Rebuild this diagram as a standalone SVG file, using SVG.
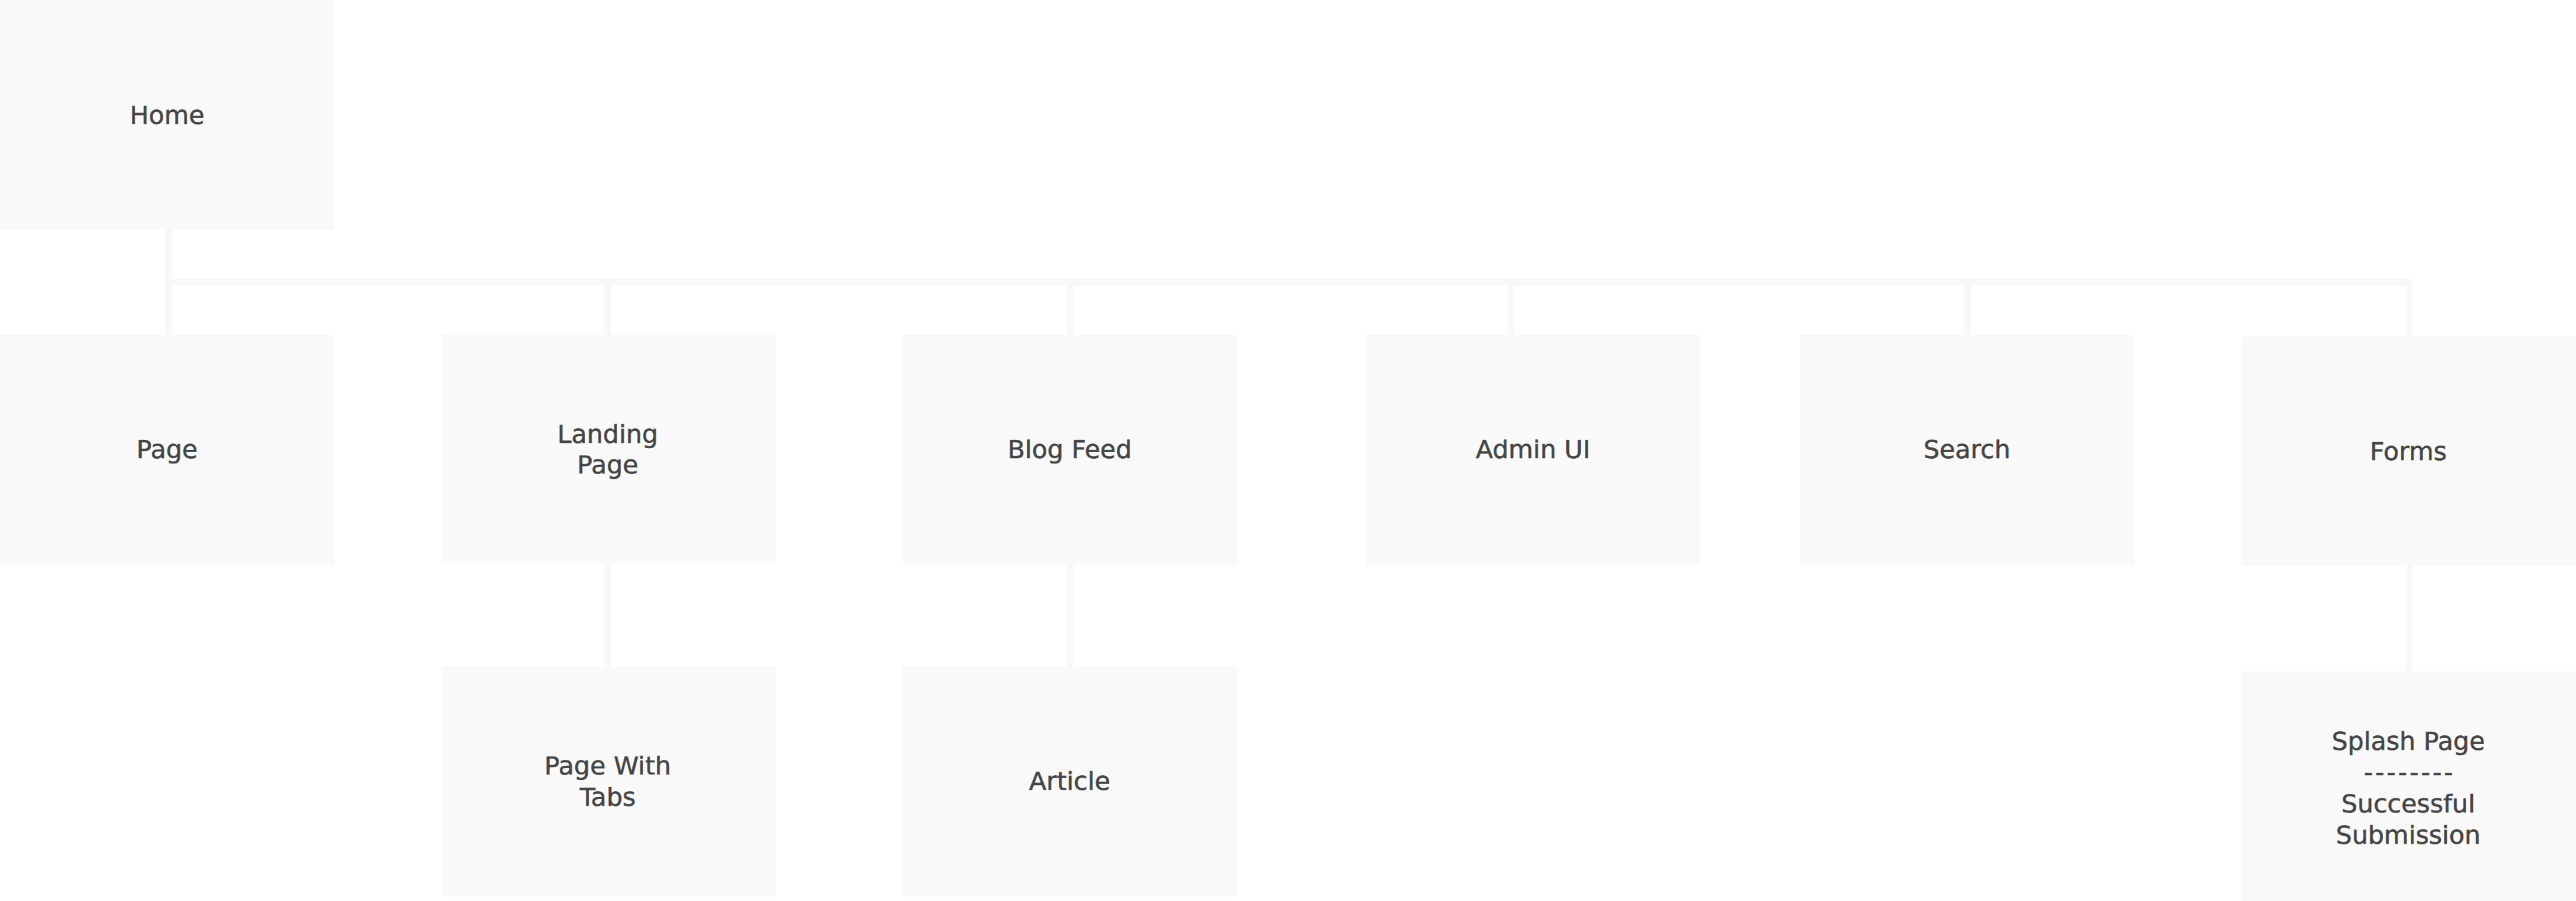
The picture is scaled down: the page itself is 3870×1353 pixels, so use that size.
<svg xmlns="http://www.w3.org/2000/svg" width="3870" height="1353" viewBox="0 0 3870 1353">
<style>
.box{fill:#f9f9f9}
.lbl{font-family:"DejaVu Sans","Noto Sans",sans-serif;font-size:38px;fill:#444;stroke:#444;stroke-width:0.6;text-anchor:middle;dominant-baseline:central}
.dash{letter-spacing:3.5px}
.con{fill:#f8f8f8}
</style>
<rect width="3870" height="1353" fill="#ffffff"/>
<g id="connectors">
<rect class="con" x="248" y="345" width="10" height="158"/>
<rect class="con" x="248" y="419" width="3376" height="10"/>
<rect class="con" x="908" y="419" width="10" height="84"/>
<rect class="con" x="1603" y="419" width="10" height="84"/>
<rect class="con" x="2265" y="419" width="10" height="84"/>
<rect class="con" x="2951" y="419" width="10" height="84"/>
<rect class="con" x="3614" y="419" width="10" height="86"/>
<rect class="con" x="908" y="846" width="10" height="155"/>
<rect class="con" x="1603" y="848" width="10" height="153"/>
<rect class="con" x="3614" y="850" width="10" height="158"/>
</g>
<g id="home"><rect class="box" x="0" y="0" width="502" height="345"/><text class="lbl" x="251" y="173">Home</text></g>
<g id="page"><rect class="box" x="0" y="503" width="502" height="345"/><text class="lbl" x="251" y="675">Page</text></g>
<g id="landing-page"><rect class="box" x="663" y="502" width="502" height="344"/><text class="lbl" x="913" y="652">Landing</text><text class="lbl" x="913" y="698">Page</text></g>
<g id="blog-feed"><rect class="box" x="1356" y="503" width="502" height="345"/><text class="lbl" x="1607" y="675">Blog Feed</text></g>
<g id="admin-ui"><rect class="box" x="2052" y="503" width="502" height="345"/><text class="lbl" x="2303" y="675">Admin UI</text></g>
<g id="search"><rect class="box" x="2704" y="503" width="502" height="345"/><text class="lbl" x="2955" y="675">Search</text></g>
<g id="forms"><rect class="box" x="3367" y="505" width="503" height="345"/><text class="lbl" x="3618" y="678">Forms</text></g>
<g id="page-with-tabs"><rect class="box" x="663" y="1001" width="502" height="345"/><text class="lbl" x="913" y="1150">Page With</text><text class="lbl" x="913" y="1197">Tabs</text></g>
<g id="article"><rect class="box" x="1356" y="1001" width="502" height="345"/><text class="lbl" x="1607" y="1173">Article</text></g>
<g id="splash-page"><rect class="box" x="3367" y="1008" width="503" height="345"/><text class="lbl" x="3618" y="1113">Splash Page</text><text class="lbl dash" x="3620" y="1160">--------</text><text class="lbl" x="3618" y="1207">Successful</text><text class="lbl" x="3618" y="1254">Submission</text></g>
</svg>
